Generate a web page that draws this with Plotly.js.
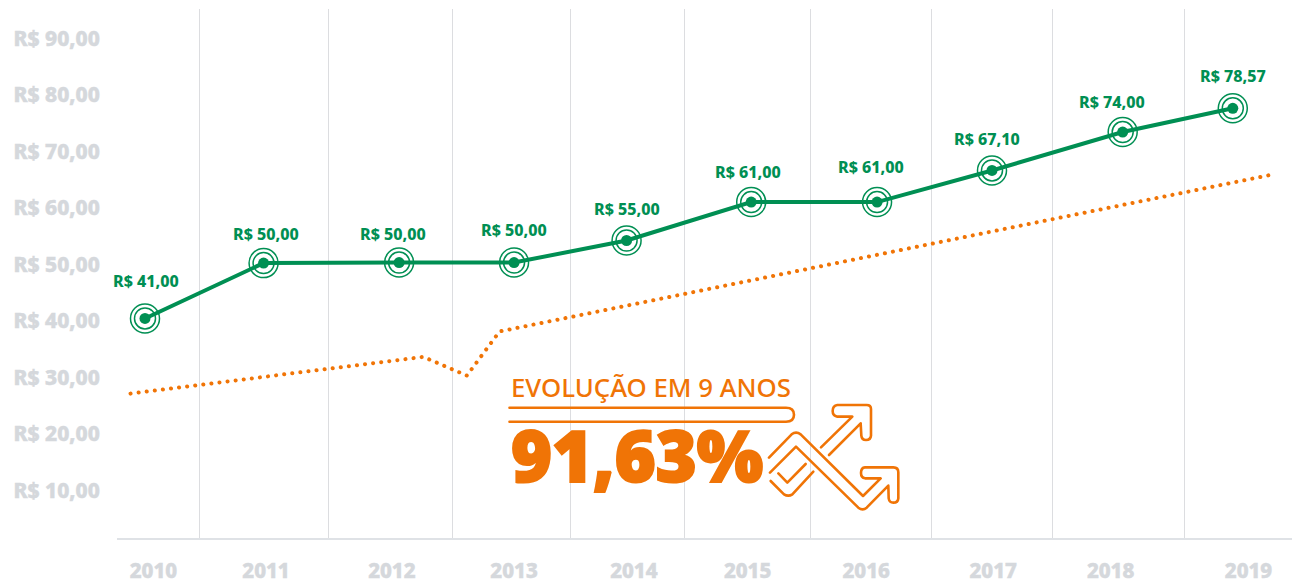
<!DOCTYPE html>
<html><head><meta charset="utf-8">
<script src="https://cdn.plot.ly/plotly-3.0.1.min.js"></script>
<style>
html,body{margin:0;padding:0;background:#fff;overflow:hidden}
#c{width:1293px;height:583px}
.scatterlayer .js-line{stroke-linecap:round}
.shapelayer path{stroke-linecap:round;stroke-linejoin:round}
.annotation:last-of-type text{stroke:#f07406;stroke-width:2.2px;paint-order:stroke}
.xtick text,.ytick text{stroke:#d5d8dc;stroke-width:.5px}
</style></head><body><div id="c"></div>
<script>
const priceX=[2010,2010.98,2012.10,2013.05,2013.98,2015.01,2016.05,2017.0,2018.08,2018.99];
const priceY=[40.4,50.2,50.3,50.3,54.2,61,61,66.6,73.4,77.6];
const priceLabels=["R$ 41,00","R$ 50,00","R$ 50,00","R$ 50,00","R$ 55,00","R$ 61,00","R$ 61,00","R$ 67,10","R$ 74,00","R$ 78,57"];
const labelDx=[1,2,-6,0,0,-3,-6,-5,-11,0];
const labelDy=[37,29,29,33,32,30,35,31,30,32];
const inflX=[2009.88,2012.30,2012.66,2012.93,2019.30];
const inflY=[27.1,33.6,30.3,38.1,65.8];
const yearLabels=["2010","2011","2012","2013","2014","2015","2016","2017","2018","2019"];
const yearTickX=[2010.07,2011.0,2012.04,2013.05,2014.04,2014.98,2015.96,2017.01,2017.98,2019.12];
const gridX=[2010.45,2011.515,2012.54,2013.52,2014.46,2015.50,2016.50,2017.50,2018.59];
const yVals=[10,20,30,40,50,60,70,80,90];
const yText=["R$ 10,00","R$ 20,00","R$ 30,00","R$ 40,00","R$ 50,00","R$ 60,00","R$ 70,00","R$ 80,00","R$ 90,00"];

const W=1293,H=583,L=117,R=1292,T=9,B=538;
const GREEN="#008f53",ORANGE="#f07406",GREY="#d5d8dc";
const FONT='"Noto Sans",sans-serif';
const px=x=>(x-L)/(R-L), py=y=>(B-y)/(B-T);
const ix=x=>(760+x/3), iy=y=>(395+y/3);
function decor(cmds){
  return cmds.map(c=>{
    if(c.length===3) return c[0]+px(ix(c[1])).toFixed(5)+','+py(iy(c[2])).toFixed(5);
    return c[0]+px(ix(c[1])).toFixed(5)+','+py(iy(c[2])).toFixed(5)+' '+px(ix(c[3])).toFixed(5)+','+py(iy(c[4])).toFixed(5);
  }).join(' ');
}
const icons=[
 [['M',183,157],['L',277,65],['L',232,65],['Q',218,62,218,48],['Q',218,32,232,30],['L',320,30],['Q',333,30,333,42],['L',333,122],['Q',332,135,318,135],['Q',305,135,304,122],['L',302,85],['L',207,180]],
 [['M',27,188],['L',95,118],['Q',108,108,122,118],['L',309,303],['L',362,250],['L',315,250],['Q',303,248,303,234],['Q',303,218,315,217],['L',400,217],['Q',415,217,415,232],['L',415,310],['Q',414,323,400,323],['Q',388,323,386,310],['L',385,272],['L',320,338],['Q',308,348,295,338],['L',108,155],['L',30,233]],
 [['M',55,235],['L',82,263],['L',137,207]],
 [['M',32,258],['L',72,298],['Q',85,306,97,298],['L',160,230]]
];
const shapes=icons.map(p=>({type:'path',xref:'paper',yref:'paper',path:decor(p),line:{color:ORANGE,width:2.6},layer:'above'}));
shapes.push({type:'path',xref:'paper',yref:'paper',layer:'above',line:{color:ORANGE,width:2.6},
 path:`M${px(509.5)},${py(407.7)} L${px(786)},${py(407.7)} Q${px(794)},${py(407.7)} ${px(794)},${py(414.7)} Q${px(794)},${py(421.7)} ${px(786)},${py(421.7)} L${px(509.5)},${py(421.7)}`});

const annotations=priceLabels.map((t,i)=>({x:priceX[i],y:priceY[i],text:t,showarrow:false,xshift:labelDx[i],yshift:labelDy[i],
  font:{family:FONT,size:16,color:GREEN,weight:800}}));
annotations.push({xref:'paper',yref:'paper',x:px(509),y:py(387),xanchor:'left',yanchor:'middle',showarrow:false,text:'EVOLUÇÃO EM 9 ANOS',
  font:{family:FONT,size:25.8,color:ORANGE,weight:500}});
annotations.push({xref:'paper',yref:'paper',x:px(509),y:py(455),xanchor:'left',yanchor:'middle',showarrow:false,text:'91,63%',
  font:{family:FONT,size:70,color:ORANGE,weight:900}});

const traces=[
 {x:inflX,y:inflY,mode:'lines',line:{color:ORANGE,width:4,dash:'0.1px,8.05px'},hoverinfo:'skip'},
 {x:priceX,y:priceY,mode:'lines',line:{color:GREEN,width:4},hoverinfo:'skip'},
 {x:priceX,y:priceY,mode:'markers',marker:{size:29,color:'rgba(0,0,0,0)',line:{color:GREEN,width:1.5}},hoverinfo:'skip'},
 {x:priceX,y:priceY,mode:'markers',marker:{size:21,color:'rgba(0,0,0,0)',line:{color:GREEN,width:1.5}},hoverinfo:'skip'},
 {x:priceX,y:priceY,mode:'markers',marker:{size:11,color:GREEN},hoverinfo:'skip'},
 {x:[gridX[0]],y:[priceY[0]],xaxis:'x2',mode:'markers',marker:{opacity:0},hoverinfo:'skip'}
];
const xMin=2010+(L-145)/121, xMax=2010+(R-145)/121;
const yMin=(547.3-B)/5.65, yMax=(547.3-T)/5.65;
Plotly.newPlot('c',traces,{
 width:W,height:H,showlegend:false,paper_bgcolor:'#fff',plot_bgcolor:'#fff',
 margin:{l:L,r:W-R,t:T,b:H-B,pad:0},
 xaxis:{range:[xMin,xMax],tickmode:'array',tickvals:yearTickX,ticktext:yearLabels,showgrid:false,zeroline:false,
   showline:true,linecolor:'#dfe2e6',linewidth:1.5,ticks:'outside',ticklen:14,tickcolor:'rgba(0,0,0,0)',
   tickfont:{family:FONT,size:20.5,color:GREY,weight:800}},
 xaxis2:{range:[xMin,xMax],overlaying:'x',anchor:'y',side:'bottom',tickmode:'array',tickvals:gridX,ticktext:gridX.map(()=>''),
   showgrid:true,gridcolor:'#dcdde0',gridwidth:1,zeroline:false,showline:false,ticks:''},
 yaxis:{range:[yMin-0.1,yMax-0.1],tickmode:'array',tickvals:yVals,ticktext:yText,showgrid:false,zeroline:false,showline:false,
   ticks:'outside',ticklen:12,tickcolor:'rgba(0,0,0,0)',tickfont:{family:FONT,size:21,color:GREY,weight:800}},
 shapes,annotations
},{staticPlot:true,displayModeBar:false});
</script></body></html>
